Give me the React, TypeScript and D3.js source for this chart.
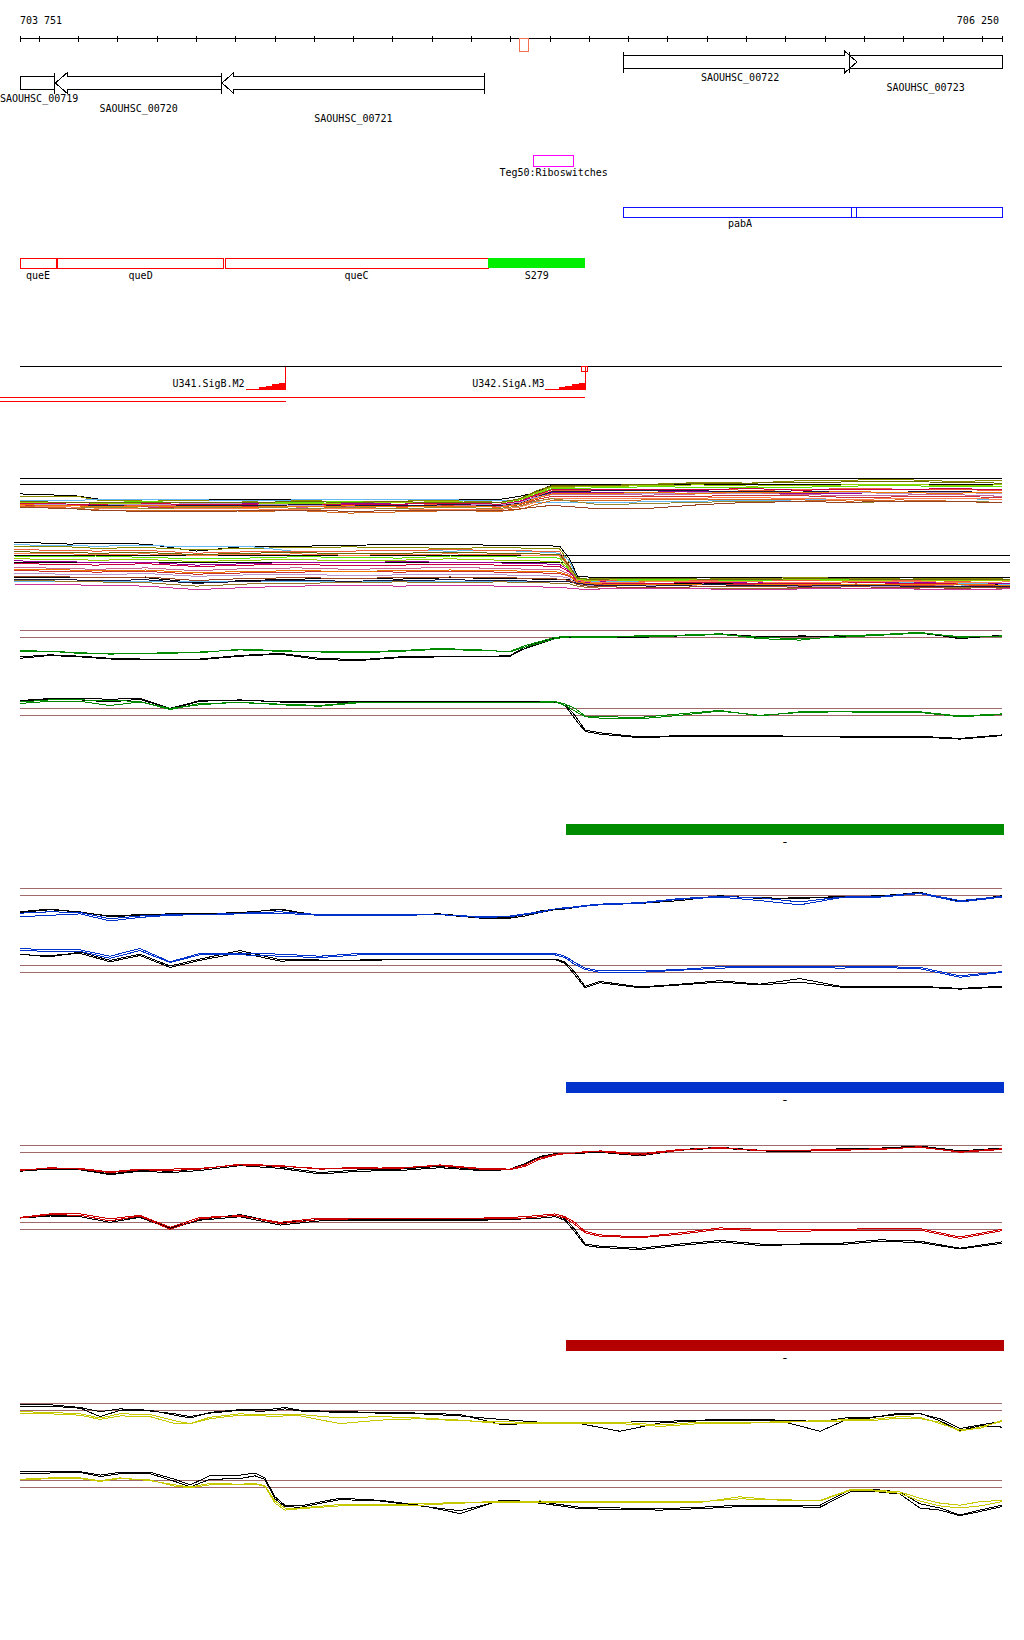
import React from 'react';
import * as d3 from 'd3';

// ---------------- data ----------------
const VIEW_START = 703751;
const VIEW_END = 706250;
const RULER_LABELS = ['703 751', '706 250'];
const RULER_MARK = [705022, 705046];

const GENE_NAMES = ['SAOUHSC_00719', 'SAOUHSC_00720', 'SAOUHSC_00721', 'SAOUHSC_00722', 'SAOUHSC_00723'];
const GENE_STARTS = [703400, 703841, 704265, 705286, 705861];
const GENE_ENDS = [703840, 704265, 704934, 705881, 706600];
const GENE_STRANDS = [-1, -1, -1, 1, 1];

const RIBO_LABEL = 'Teg50:Riboswitches';
const RIBO_RANGE = [705058, 705160];

const OPERON_NAMES = ['queE', 'queD', 'queC', 'S279'];
const OPERON_STARTS = [703700, 703847, 704273, 704942];
const OPERON_ENDS = [703843, 704269, 704942, 705190];
const OPERON_TYPES = ['cds', 'cds', 'cds', 'srna'];

const PABA_NAMES = ['pabA', ''];
const PABA_STARTS = [705286, 705866];
const PABA_ENDS = [705881, 706300];

const PROMOTER_NAMES = ['U341.SigB.M2', 'U342.SigA.M3'];
const PROMOTER_POS = [704427, 705190];
const PROMOTER_MARK = [false, true];
const TRANSCRIPT_START = 703600;

const THRESHOLDS = [12, 11];
const BAR_RANGE = [705140, 706300];
const BAR_LABEL = '-';

// positions (bp) of the smoothed expression profiles
const POS = [703751, 703827, 703904, 703980, 704056, 704133, 704209, 704311, 704413, 704514, 704616, 704718, 704820, 704922, 704998, 705036, 705074, 705112, 705138, 705163, 705189, 705227, 705329, 705431, 705532, 705634, 705736, 705838, 705940, 706041, 706143, 706250];
const POS_Y = [703751, 703827, 703904, 703955, 704006, 704082, 704145, 704184, 704234, 704311, 704349, 704374, 704400, 704425, 704464, 704565, 704667, 704769, 704871, 704973, 705074, 705176, 705278, 705380, 705481, 705583, 705685, 705787, 705863, 705914, 705990, 706041, 706092, 706143, 706194, 706250];
const POS_A = [703751, 703891, 703955, 704082, 704209, 704336, 704464, 704591, 704718, 704845, 704973, 705023, 705062, 705105, 705227, 705354, 705481, 705609, 705736, 705863, 705990, 706118, 706250];
const POS_AL = [703751, 703891, 703955, 704082, 704209, 704336, 704464, 704591, 704718, 704845, 704973, 705062, 705120, 705145, 705165, 705190, 705227, 705354, 705481, 705609, 705736, 705863, 705990, 706118, 706250];

// green condition
const GREEN_UP_C1 = [8.9, 9.0, 8.7, 8.7, 8.7, 8.7, 8.9, 9.2, 9.0, 9.0, 8.9, 9.1, 9.4, 9.2, 8.9, 9.6, 10.2, 10.8, 11.0, 11.1, 11.1, 11.1, 11.2, 11.3, 11.5, 10.8, 10.6, 11.2, 11.4, 11.7, 11.0, 11.2];
const GREEN_UP_C2 = [9.1, 9.0, 8.8, 8.6, 8.7, 8.8, 8.8, 9.3, 9.1, 8.9, 8.8, 9.0, 9.3, 9.1, 9.0, 9.8, 10.4, 11.0, 11.1, 11.0, 11.0, 11.0, 11.1, 11.2, 11.4, 11.0, 10.8, 11.0, 11.3, 11.6, 11.1, 11.1];
const GREEN_UP_K1 = [8.0, 8.4, 8.2, 7.9, 7.8, 7.8, 7.8, 8.3, 8.6, 7.8, 7.7, 8.1, 8.2, 8.2, 8.3, 9.4, 10.1, 10.8, 11.0, 11.0, 11.0, 11.0, 11.1, 11.3, 11.5, 11.1, 11.1, 11.2, 11.4, 11.7, 10.8, 11.3];
const GREEN_UP_K2 = [8.2, 8.5, 8.3, 8.0, 7.9, 7.9, 7.9, 8.4, 8.7, 8.0, 7.8, 8.2, 8.3, 8.2, 8.4, 9.6, 10.3, 10.9, 11.0, 11.0, 11.0, 10.9, 11.0, 11.2, 11.5, 10.9, 11.2, 11.1, 11.3, 11.6, 10.9, 11.2];
const GREEN_LO_C1 = [12.9, 13.2, 13.2, 13.1, 13.0, 11.8, 12.7, 12.8, 12.6, 12.4, 12.9, 12.9, 12.9, 12.9, 12.9, 12.9, 12.9, 13.0, 12.6, 12.0, 10.9, 10.8, 10.7, 11.2, 11.7, 10.9, 11.5, 11.6, 11.5, 11.5, 10.9, 11.2];
const GREEN_LO_C2 = [12.7, 13.0, 13.0, 12.4, 12.9, 12.0, 12.5, 12.9, 12.5, 12.3, 12.8, 12.8, 12.8, 12.8, 12.8, 12.8, 12.8, 12.9, 12.4, 11.6, 10.8, 10.6, 10.5, 11.0, 11.6, 11.0, 11.4, 11.5, 11.4, 11.4, 10.8, 11.1];
const GREEN_LO_K1 = [13.1, 13.4, 13.4, 13.3, 13.4, 12.0, 13.1, 13.1, 13.0, 13.0, 13.0, 13.0, 13.0, 13.0, 13.0, 13.0, 13.0, 13.0, 12.6, 11.0, 8.9, 8.5, 7.9, 8.1, 8.1, 8.1, 8.0, 8.0, 8.0, 8.0, 7.7, 8.2];
const GREEN_LO_K2 = [13.0, 13.3, 13.2, 12.9, 13.3, 11.9, 13.0, 13.2, 12.9, 12.9, 12.9, 12.9, 12.9, 12.9, 12.9, 12.9, 12.9, 12.9, 12.4, 10.5, 8.7, 8.3, 7.8, 8.0, 8.0, 8.0, 7.9, 7.9, 7.9, 7.9, 7.6, 8.1];

// blue condition
const BLUE_UP_C1 = [8.4, 8.6, 8.5, 7.6, 8.0, 8.2, 8.2, 8.4, 8.6, 8.2, 8.2, 8.2, 8.2, 7.9, 8.0, 8.3, 8.6, 9.0, 9.2, 9.3, 9.5, 9.7, 9.9, 10.5, 10.8, 10.6, 10.0, 10.7, 10.8, 11.3, 10.2, 10.8];
const BLUE_UP_C2 = [7.9, 8.1, 8.3, 7.3, 7.8, 8.1, 8.2, 8.3, 8.4, 8.1, 8.1, 8.1, 8.2, 7.8, 7.9, 8.2, 8.5, 9.0, 9.1, 9.2, 9.4, 9.6, 9.8, 10.4, 10.7, 10.2, 9.6, 10.6, 10.7, 11.2, 10.0, 10.7];
const BLUE_UP_K1 = [8.6, 9.0, 8.5, 8.0, 8.2, 8.3, 8.3, 8.5, 8.9, 8.1, 8.1, 8.2, 8.3, 7.8, 7.8, 8.2, 8.7, 9.0, 9.1, 9.3, 9.5, 9.7, 9.9, 10.4, 10.8, 10.6, 10.5, 10.8, 10.8, 11.4, 10.0, 10.9];
const BLUE_UP_K2 = [8.5, 8.9, 8.6, 7.9, 8.1, 8.2, 8.2, 8.4, 9.0, 8.0, 8.2, 8.1, 8.2, 7.7, 7.7, 8.0, 8.5, 8.9, 9.0, 9.2, 9.4, 9.6, 9.8, 10.2, 10.9, 10.5, 10.6, 10.7, 10.9, 11.3, 10.1, 10.8];
const BLUE_LO_C1 = [14.4, 14.2, 14.2, 13.3, 14.4, 12.5, 13.7, 13.7, 13.6, 13.3, 13.7, 13.7, 13.7, 13.7, 13.7, 13.7, 13.7, 13.7, 13.3, 12.4, 11.6, 11.2, 11.2, 11.4, 11.8, 11.8, 11.8, 11.8, 11.8, 11.7, 10.5, 11.1];
const BLUE_LO_C2 = [14.1, 14.0, 14.0, 13.0, 14.1, 12.4, 13.5, 13.5, 13.3, 13.1, 13.5, 13.5, 13.5, 13.5, 13.5, 13.5, 13.5, 13.5, 13.1, 12.1, 11.4, 11.0, 11.0, 11.3, 11.6, 11.7, 11.7, 11.6, 11.7, 11.5, 10.3, 11.0];
const BLUE_LO_K1 = [13.6, 13.2, 13.9, 12.7, 13.6, 11.9, 12.9, 14.1, 12.8, 12.9, 12.9, 12.9, 12.9, 12.9, 12.9, 12.9, 12.9, 12.9, 12.5, 11.0, 9.0, 9.7, 8.9, 9.3, 9.8, 9.3, 10.1, 9.0, 9.0, 9.0, 8.7, 9.0];
const BLUE_LO_K2 = [13.5, 13.4, 13.7, 12.5, 13.4, 11.7, 12.7, 13.8, 12.6, 12.7, 12.7, 12.8, 12.8, 12.8, 12.8, 12.8, 12.8, 12.8, 12.3, 10.6, 8.8, 9.5, 8.8, 9.2, 9.6, 9.2, 9.6, 8.9, 8.9, 8.9, 8.6, 8.9];

// red condition
const RED_UP_C1 = [8.5, 8.7, 8.7, 8.2, 8.6, 8.6, 8.7, 9.2, 9.0, 8.7, 8.8, 8.7, 9.2, 8.7, 8.6, 9.2, 10.2, 10.7, 10.9, 10.9, 11.0, 11.2, 10.8, 11.4, 11.6, 11.3, 11.3, 11.4, 11.5, 11.7, 11.1, 11.5];
const RED_UP_C2 = [8.4, 8.8, 8.6, 8.1, 8.5, 8.4, 8.6, 9.3, 9.1, 8.6, 8.7, 8.8, 9.1, 8.6, 8.5, 9.0, 10.0, 10.6, 10.8, 10.9, 11.1, 11.1, 10.6, 11.3, 11.7, 11.2, 11.2, 11.3, 11.4, 11.8, 11.0, 11.4];
const RED_UP_K1 = [8.5, 8.7, 8.6, 7.9, 8.4, 8.3, 8.6, 9.3, 8.9, 8.1, 8.5, 8.6, 9.0, 8.5, 8.6, 9.4, 10.4, 10.8, 10.9, 10.9, 11.0, 11.1, 10.7, 11.4, 11.7, 11.3, 11.2, 11.5, 11.6, 11.9, 11.2, 11.6];
const RED_UP_K2 = [8.3, 8.6, 8.5, 7.8, 8.3, 8.1, 8.4, 9.1, 8.7, 7.9, 8.3, 8.4, 8.8, 8.4, 8.5, 9.3, 10.3, 10.7, 10.8, 10.8, 10.9, 11.0, 10.5, 11.3, 11.6, 11.2, 11.1, 11.4, 11.5, 11.8, 11.1, 11.5];
const RED_LO_C1 = [12.7, 13.2, 13.2, 12.5, 13.0, 11.3, 12.7, 12.9, 12.0, 12.6, 12.6, 12.6, 12.6, 12.6, 12.7, 12.8, 13.0, 13.2, 12.8, 12.0, 10.7, 10.2, 9.9, 10.5, 11.2, 11.0, 10.9, 11.0, 11.1, 11.1, 9.9, 11.0];
const RED_LO_C2 = [12.6, 13.1, 13.0, 12.2, 12.9, 11.0, 12.5, 13.0, 11.8, 12.4, 12.5, 12.5, 12.5, 12.5, 12.5, 12.6, 12.8, 13.0, 12.6, 11.7, 10.5, 10.0, 9.8, 10.3, 11.0, 10.8, 10.7, 10.9, 10.9, 10.9, 9.7, 10.8];
const RED_LO_K1 = [12.7, 13.0, 13.0, 12.2, 12.8, 11.2, 12.4, 13.1, 11.9, 12.4, 12.4, 12.4, 12.4, 12.4, 12.5, 12.6, 12.8, 13.0, 12.5, 11.0, 8.9, 8.6, 8.3, 8.9, 9.4, 8.9, 8.9, 9.0, 9.5, 9.3, 8.3, 9.2];
const RED_LO_K2 = [12.6, 12.9, 12.8, 12.0, 12.7, 11.1, 12.3, 12.8, 11.6, 12.2, 12.3, 12.3, 12.3, 12.3, 12.4, 12.5, 12.6, 12.8, 12.3, 10.6, 8.7, 8.4, 8.1, 8.7, 9.2, 8.7, 8.8, 8.8, 9.3, 9.1, 8.2, 9.0];

// yellow condition
const YEL_UP_C1 = [10.8, 10.7, 10.5, 9.9, 10.5, 10.4, 9.5, 9.1, 10.0, 10.5, 10.4, 10.4, 10.4, 10.4, 10.4, 9.9, 10.1, 9.9, 9.6, 9.1, 9.1, 9.1, 9.1, 8.7, 9.1, 9.1, 9.4, 9.5, 9.7, 9.7, 10.1, 10.0, 9.1, 8.2, 8.4, 9.6];
const YEL_UP_C2 = [10.6, 10.5, 10.3, 9.7, 10.2, 10.1, 9.1, 9.1, 9.8, 10.3, 10.3, 10.2, 10.1, 10.2, 10.2, 9.1, 9.6, 9.8, 9.5, 9.4, 9.2, 9.2, 9.3, 8.9, 9.3, 9.3, 9.3, 9.4, 9.5, 9.5, 9.9, 9.8, 9.3, 8.0, 8.6, 9.4];
const YEL_UP_K1 = [11.8, 11.8, 11.4, 10.8, 11.2, 11.0, 10.3, 9.9, 10.7, 11.1, 11.1, 11.1, 11.2, 11.4, 11.0, 10.8, 10.7, 10.6, 10.4, 9.0, 9.1, 9.1, 8.0, 9.2, 9.5, 9.6, 9.5, 8.0, 9.9, 9.9, 10.6, 10.6, 9.5, 8.1, 8.8, 8.6];
const YEL_UP_K2 = [11.6, 11.6, 11.3, 10.1, 11.0, 10.9, 10.5, 10.1, 10.6, 11.0, 10.9, 10.9, 11.0, 11.2, 10.9, 10.7, 10.6, 10.5, 10.2, 9.7, 9.3, 9.2, 9.3, 9.4, 9.6, 9.7, 9.6, 9.4, 10.0, 10.0, 10.4, 10.5, 9.8, 8.4, 8.9, 9.4];
const YEL_LO_C1 = [12.0, 12.2, 12.2, 11.8, 12.2, 12.0, 11.1, 10.9, 11.3, 11.3, 11.4, 11.1, 8.7, 7.7, 7.9, 8.3, 8.4, 8.4, 8.7, 8.8, 8.8, 8.8, 8.8, 8.8, 8.8, 9.6, 9.1, 9.1, 10.6, 10.6, 10.3, 9.4, 8.7, 8.4, 8.9, 9.1];
const YEL_LO_C2 = [12.1, 12.3, 12.3, 11.9, 12.3, 11.9, 11.3, 11.0, 11.5, 11.4, 11.5, 11.2, 9.0, 8.0, 8.0, 8.5, 8.5, 8.6, 8.8, 8.9, 9.0, 8.9, 8.9, 8.9, 8.9, 9.3, 9.2, 9.0, 10.5, 10.5, 10.1, 9.0, 8.3, 8.0, 8.3, 8.9];
const YEL_LO_K1 = [13.2, 13.2, 13.2, 12.7, 13.1, 13.1, 12.1, 11.3, 12.6, 12.7, 13.0, 12.3, 9.6, 8.4, 8.3, 9.4, 9.1, 8.4, 7.2, 9.1, 8.9, 8.1, 8.0, 7.9, 8.1, 8.4, 8.4, 8.4, 10.6, 10.7, 10.3, 8.6, 8.0, 7.0, 7.7, 8.4];
const YEL_LO_K2 = [13.0, 13.0, 13.1, 12.5, 12.9, 12.9, 11.8, 11.0, 12.1, 12.2, 12.6, 12.1, 9.3, 8.2, 8.1, 9.2, 9.0, 8.3, 7.6, 9.0, 8.7, 7.9, 7.8, 7.7, 7.9, 8.2, 8.2, 8.1, 10.3, 10.4, 10.0, 8.0, 7.7, 6.9, 7.5, 8.2];

// all-conditions overview (many samples)
const A_UP_SERIES = [
  [9.4, 9.1, 8.5, 8.5, 8.5, 8.5, 8.5, 8.5, 8.5, 8.5, 8.5, 9.0, 9.6, 10.9, 10.9, 10.9, 10.9, 10.9, 10.9, 10.9, 10.9, 10.9, 10.9],
  [9.05, 9.05, 8.3, 8.2, 8.3, 8.2, 8.3, 8.1, 8.2, 8.3, 8.0, 8.6, 9.6, 10.6, 10.7, 11.0, 11.3, 11.2, 11.6, 11.7, 11.8, 11.5, 11.6],
  [8.3, 8.3, 8.5, 8.4, 8.4, 8.3, 8.4, 8.4, 8.4, 8.4, 8.3, 8.2, 8.0, 8.0, 7.9, 8.1, 8.2, 8.3, 8.4, 8.5, 8.6, 8.6, 8.5],
  [8.0, 7.9, 8.0, 8.1, 7.9, 7.8, 8.0, 8.1, 7.9, 8.0, 7.9, 8.4, 9.3, 10.3, 10.4, 10.6, 10.5, 10.4, 10.5, 10.7, 10.8, 10.6, 10.7],
  [7.8, 7.7, 7.6, 7.5, 7.4, 7.5, 7.6, 7.4, 7.5, 7.6, 7.4, 8.0, 9.0, 9.9, 10.0, 10.1, 10.2, 10.0, 10.1, 10.3, 10.2, 10.1, 10.0],
  [7.9, 7.6, 7.8, 7.7, 7.7, 7.8, 7.7, 7.8, 7.9, 7.7, 7.7, 8.1, 8.9, 9.6, 9.6, 9.7, 9.8, 9.6, 9.4, 9.5, 9.7, 9.6, 9.5],
  [7.6, 7.5, 7.4, 7.3, 7.5, 7.4, 7.2, 7.3, 7.4, 7.5, 7.3, 7.8, 8.7, 9.3, 9.3, 9.2, 9.4, 9.5, 9.3, 9.1, 9.2, 9.3, 9.0],
  [7.5, 7.4, 7.6, 7.2, 7.1, 7.3, 7.4, 7.2, 7.3, 7.4, 7.2, 7.6, 8.4, 9.0, 9.0, 8.9, 9.0, 9.2, 9.1, 8.8, 8.9, 9.0, 8.8],
  [7.4, 7.2, 7.0, 6.9, 7.0, 6.9, 6.8, 7.0, 6.9, 6.8, 6.8, 7.2, 8.0, 8.7, 8.7, 8.6, 8.7, 8.8, 8.6, 8.5, 8.6, 8.7, 8.5],
  [7.3, 7.0, 6.7, 6.6, 6.7, 6.5, 6.6, 6.2, 6.4, 6.6, 6.5, 6.8, 7.6, 8.3, 8.3, 8.4, 8.4, 8.5, 8.4, 8.2, 8.4, 8.2, 7.9],
  [7.7, 7.6, 7.5, 7.6, 7.5, 7.4, 7.6, 7.5, 7.4, 7.6, 7.5, 7.9, 8.8, 9.8, 9.9, 10.0, 9.9, 9.8, 9.9, 9.6, 9.7, 9.8, 9.6],
  [7.7, 7.6, 7.7, 7.6, 7.8, 7.7, 7.5, 7.6, 7.7, 7.8, 7.6, 8.0, 8.8, 9.4, 9.5, 9.4, 9.6, 9.5, 9.7, 9.6, 9.5, 9.7, 9.4],
  [7.1, 7.0, 7.2, 7.0, 7.1, 7.2, 7.0, 7.1, 7.0, 7.1, 7.0, 7.4, 8.2, 8.6, 7.6, 7.8, 8.0, 8.2, 8.1, 8.0, 8.1, 8.2, 8.0],
  [7.2, 6.9, 6.6, 6.5, 6.4, 6.6, 6.7, 6.5, 6.6, 6.7, 6.6, 6.9, 7.2, 7.5, 6.9, 7.0, 7.6, 8.0, 8.1, 8.0, 8.2, 8.1, 8.0],
  [7.8, 7.7, 7.7, 7.8, 7.6, 7.7, 7.8, 7.6, 7.7, 7.8, 7.7, 8.2, 9.2, 10.1, 10.2, 10.2, 10.1, 10.3, 10.0, 10.2, 10.1, 10.3, 10.1],
  [7.9, 8.0, 7.8, 7.9, 8.0, 7.9, 7.8, 7.9, 8.0, 8.1, 7.9, 8.5, 9.5, 10.5, 10.6, 10.8, 10.9, 10.7, 10.8, 10.9, 11.0, 10.8, 10.9],
  [8.1, 8.0, 7.9, 8.0, 7.9, 8.0, 8.1, 8.0, 8.1, 7.9, 8.0, 8.6, 9.8, 10.8, 10.8, 11.0, 11.1, 11.2, 11.3, 11.4, 11.5, 11.3, 11.2],
  [7.6, 7.4, 7.3, 7.4, 7.3, 7.2, 7.3, 7.4, 7.2, 7.3, 7.2, 7.7, 8.6, 9.4, 9.5, 9.6, 9.5, 9.7, 9.6, 9.8, 9.6, 9.5, 9.7],
];
const A_LO_SERIES = [
  [13.9, 13.6, 13.7, 13.6, 12.6, 13.3, 13.3, 13.4, 13.6, 13.6, 13.4, 13.4, 13.3, 11.5, 9.0, 8.9, 8.9, 8.9, 8.9, 8.9, 8.9, 8.9, 8.9, 8.9, 8.9],
  [8.9, 8.9, 8.9, 8.8, 8.1, 8.4, 8.6, 8.7, 8.6, 8.8, 8.7, 8.6, 8.6, 8.5, 8.4, 8.2, 8.0, 7.9, 8.0, 7.9, 7.8, 7.9, 7.8, 7.9, 7.8],
  [13.3, 13.2, 13.0, 13.1, 12.8, 13.0, 13.1, 13.2, 13.1, 13.0, 13.1, 13.0, 12.9, 11.0, 8.8, 8.6, 8.7, 8.6, 8.6, 8.7, 8.8, 8.7, 8.6, 8.7, 8.6],
  [13.5, 13.4, 13.3, 13.4, 13.2, 13.3, 12.5, 12.6, 12.7, 12.6, 12.7, 12.5, 12.3, 11.2, 8.6, 8.3, 8.2, 8.2, 8.3, 8.2, 8.1, 8.2, 8.1, 8.0, 8.0],
  [8.3, 8.3, 8.3, 8.2, 8.3, 8.3, 8.2, 8.3, 8.3, 8.2, 8.3, 8.2, 8.2, 8.2, 8.1, 8.0, 7.9, 7.9, 7.8, 7.8, 7.9, 7.8, 7.7, 7.6, 7.8],
  [12.8, 12.7, 12.6, 12.7, 12.3, 12.5, 12.6, 12.6, 12.7, 12.8, 12.7, 12.6, 12.5, 10.5, 8.5, 8.3, 8.4, 8.3, 8.4, 8.5, 8.4, 8.3, 8.4, 8.3, 8.4],
  [11.9, 11.8, 11.9, 11.7, 11.5, 11.6, 11.8, 11.7, 11.6, 11.9, 11.8, 11.7, 11.6, 10.0, 8.7, 8.5, 8.5, 8.6, 8.5, 8.4, 8.6, 8.6, 8.5, 8.6, 8.5],
  [11.2, 11.1, 10.9, 11.0, 10.6, 10.8, 11.0, 10.9, 11.1, 11.0, 10.9, 10.8, 10.7, 9.8, 8.3, 8.1, 8.2, 8.0, 8.1, 8.2, 8.0, 8.1, 8.2, 8.1, 8.0],
  [10.8, 10.7, 10.6, 10.8, 10.4, 10.6, 10.7, 10.5, 10.6, 10.7, 10.6, 10.5, 10.4, 9.6, 8.2, 8.0, 7.9, 8.0, 8.1, 8.0, 7.9, 8.1, 8.0, 7.9, 7.9],
  [10.3, 10.1, 10.0, 10.2, 9.8, 10.1, 10.2, 10.0, 10.1, 10.3, 10.1, 10.0, 9.9, 9.3, 8.0, 7.8, 7.7, 7.8, 7.9, 7.7, 7.8, 7.7, 7.8, 7.6, 7.7],
  [9.8, 9.7, 9.6, 9.7, 9.3, 9.5, 9.6, 9.7, 9.6, 9.7, 9.6, 9.5, 9.4, 9.0, 8.1, 7.9, 7.8, 7.7, 7.8, 7.8, 7.7, 7.8, 7.7, 7.8, 7.6],
  [9.4, 9.3, 9.2, 9.4, 9.0, 9.2, 9.3, 9.1, 9.2, 9.3, 9.2, 9.1, 9.0, 8.7, 7.9, 7.7, 7.6, 7.7, 7.6, 7.5, 7.6, 7.5, 7.6, 7.5, 7.5],
  [8.6, 8.5, 8.4, 8.5, 8.0, 8.3, 8.4, 8.3, 8.4, 8.5, 8.4, 8.3, 8.3, 8.2, 8.0, 7.8, 7.7, 7.6, 7.8, 7.7, 7.6, 7.7, 7.6, 7.6, 7.5],
  [8.4, 8.3, 8.2, 8.1, 7.6, 7.9, 8.0, 8.1, 8.2, 8.1, 8.2, 8.1, 8.0, 7.9, 7.6, 7.4, 7.3, 7.4, 7.3, 7.2, 7.3, 7.2, 7.3, 7.4, 7.3],
  [12.3, 12.2, 12.1, 12.2, 12.0, 12.1, 12.2, 12.0, 12.1, 12.2, 12.1, 12.0, 11.9, 10.2, 8.4, 8.2, 8.1, 8.2, 8.3, 8.2, 8.1, 8.2, 8.3, 8.1, 8.2],
  [11.5, 11.4, 11.3, 11.4, 11.1, 11.3, 11.4, 11.2, 11.3, 11.5, 11.3, 11.2, 11.1, 9.9, 8.6, 8.4, 8.5, 8.4, 8.5, 8.6, 8.5, 8.4, 8.5, 8.4, 8.4],
  [12.5, 12.4, 12.3, 12.4, 12.1, 12.3, 12.4, 12.2, 12.3, 12.4, 12.3, 12.2, 12.1, 10.4, 8.7, 8.6, 8.6, 8.7, 8.6, 8.5, 8.7, 8.6, 8.5, 8.6, 8.5],
  [10.0, 9.9, 9.8, 9.9, 9.5, 9.7, 9.8, 9.7, 9.8, 9.9, 9.8, 9.7, 9.6, 9.1, 8.2, 8.0, 7.9, 7.8, 7.9, 7.9, 7.8, 7.9, 7.8, 7.9, 7.7],
  [9.0, 8.9, 8.8, 8.9, 8.4, 8.7, 8.8, 8.7, 8.8, 8.9, 8.8, 8.7, 8.6, 8.4, 7.8, 7.6, 7.5, 7.4, 7.5, 7.6, 7.4, 7.5, 7.4, 7.3, 7.4],
  [7.9, 7.8, 7.7, 7.6, 7.1, 7.4, 7.6, 7.7, 7.6, 7.7, 7.6, 7.5, 7.4, 7.3, 7.2, 7.1, 7.2, 7.3, 7.2, 7.1, 7.2, 7.3, 7.2, 7.1, 7.2],
];

// ---------------- styles ----------------
const A_UP_COLORS = ['#000000', '#8b8b00', '#66b8f0', '#5ee000', '#e8603c', '#990099', '#cc6699', '#cc3333', '#ff7f50', '#d2691e', '#1a1a40', '#bb99cc', '#998833', '#994422', '#cc0044', '#99cc00', '#6b6b00', '#ee7700'];
const A_LO_COLORS = ['#000000', '#000000', '#8b8b00', '#66b8f0', '#66b8f0', '#e8603c', '#5ee000', '#990099', '#cc0044', '#cc6699', '#cc3333', '#bb99cc', '#1a1a40', '#99772a', '#ff7f50', '#99cc00', '#6b6b00', '#ee7700', '#994422', '#cc3399'];
const THR_COLOR = '#a06a6a';
const FONT = "'DejaVu Sans Mono', 'Liberation Mono', monospace";

const X0 = 20;
const X1 = 1002;
const CHAR_W = 6.02;

type Scale = d3.ScaleLinear<number, number>;

function pathFor(pos: number[], vals: number[], xs: Scale, ys: Scale) {
  const line = d3
    .line<number>()
    .defined((d, i) => i < pos.length && d != null)
    .x((d, i) => xs(pos[i]))
    .y((d) => ys(d));
  return line(vals) || '';
}

function Panel(props: {
  pos: number[];
  series: number[][];
  colors: string[];
  xs: Scale;
  refY: number;
  unit: number;
  thrColor: string;
}) {
  const { pos, series, colors, xs, refY, unit, thrColor } = props;
  const ys = d3.scaleLinear().domain([THRESHOLDS[0], THRESHOLDS[1]]).range([refY, refY + unit]);
  const [r0, r1] = xs.range();
  return (
    <g>
      {THRESHOLDS.map((t, i) => (
        <line key={'t' + i} x1={r0} x2={r1} y1={ys(t)} y2={ys(t)} stroke={thrColor} strokeWidth={1} shapeRendering="crispEdges" />
      ))}
      {series.map((s, i) => (
        <path key={i} d={pathFor(pos, s, xs, ys)} fill="none" stroke={colors[i]} strokeWidth={1} shapeRendering="crispEdges" />
      ))}
    </g>
  );
}

export default function App() {
  const x = d3.scaleLinear().domain([VIEW_START, VIEW_END]).range([X0, X1]);
  const xLo = d3.scaleLinear().domain([VIEW_START, VIEW_END]).range([X0 - 6, X1 + 8]);
  const clamp = (v: number) => Math.max(X0, Math.min(X1, v));
  const ticks = x.ticks(25);

  // gene glyph geometry
  const fwdTop = 55.5;
  const revTop = 76.5;
  const bodyH = 13;
  const headExt = 4;
  const headLen = 12;
  const labelLane = [0, 1, 2, 0, 1];

  const genes = GENE_NAMES.map((name, i) => {
    const strand = GENE_STRANDS[i];
    const top = strand > 0 ? fwdTop : revTop;
    const bot = top + bodyH;
    const mid = top + bodyH / 2;
    const a = x(GENE_STARTS[i]);
    const b = x(GENE_ENDS[i]);
    const tail = strand > 0 ? a : b;
    const tip = strand > 0 ? b : a;
    const dir = strand > 0 ? 1 : -1;
    const tipVis = tip >= X0 && tip <= X1;
    const tailVis = tail >= X0 && tail <= X1;
    const tc = clamp(tail);
    let d: string;
    if (tipVis) {
      const base = tip - dir * headLen;
      d = `M${tc},${top}L${base},${top}L${base},${top - headExt}L${tip},${mid}L${base},${bot + headExt}L${base},${bot}L${tc},${bot}Z`;
    } else {
      const pc = clamp(tip);
      d = `M${tc},${top}L${pc},${top}L${pc},${bot}L${tc},${bot}Z`;
    }
    const half = (name.length * CHAR_W) / 2;
    const cx = Math.max(half, (clamp(a) + clamp(b)) / 2);
    return { name, d, tail, tailVis, top, bot, cx, ly: bot + 12 + labelLane[i] * 10 };
  });

  const tracks = [
    { color: '#008a00', bar: '#008c00', pos: POS, up: [GREEN_UP_K1, GREEN_UP_K2, GREEN_UP_C1, GREEN_UP_C2], lo: [GREEN_LO_K1, GREEN_LO_K2, GREEN_LO_C1, GREEN_LO_C2], upRef: 630.3, loRef: 708.3, barY: 824 },
    { color: '#0033cc', bar: '#0033cc', pos: POS, up: [BLUE_UP_K1, BLUE_UP_K2, BLUE_UP_C1, BLUE_UP_C2], lo: [BLUE_LO_K1, BLUE_LO_K2, BLUE_LO_C1, BLUE_LO_C2], upRef: 888, loRef: 965.3, barY: 1082 },
    { color: '#cc0000', bar: '#b40000', pos: POS, up: [RED_UP_K1, RED_UP_K2, RED_UP_C1, RED_UP_C2], lo: [RED_LO_K1, RED_LO_K2, RED_LO_C1, RED_LO_C2], upRef: 1145.3, loRef: 1222.3, barY: 1340 },
    { color: '#c8c800', bar: null, pos: POS_Y, up: [YEL_UP_K1, YEL_UP_K2, YEL_UP_C1, YEL_UP_C2], lo: [YEL_LO_K1, YEL_LO_K2, YEL_LO_C1, YEL_LO_C2], upRef: 1403.3, loRef: 1480, barY: 0 },
  ];

  const promLineY = 366.5;
  const rampW = 40;
  const rampH = 7;
  const rampSteps = 6;

  return (
    <svg
      width={1024}
      height={1640}
      style={{ position: 'absolute', left: 0, top: 0, background: '#fff' }}
      fontFamily={FONT}
      fontSize={10}
    >
      <rect x={0} y={0} width={1024} height={1640} fill="#fff" />

      {/* ruler */}
      <text x={X0} y={24} fill="#000">{RULER_LABELS[0]}</text>
      <text x={X1 - 3} y={24} fill="#000" textAnchor="end">{RULER_LABELS[1]}</text>
      <line x1={x(VIEW_START)} x2={x(VIEW_END)} y1={38.5} y2={38.5} stroke="#000" shapeRendering="crispEdges" />
      {[VIEW_START, ...ticks, VIEW_END].map((t, i) => (
        <line key={i} x1={x(t)} x2={x(t)} y1={35.5} y2={41.5} stroke="#000" shapeRendering="crispEdges" />
      ))}
      <rect x={x(RULER_MARK[0])} y={38.5} width={x(RULER_MARK[1]) - x(RULER_MARK[0])} height={13} fill="none" stroke="#f0704f" shapeRendering="crispEdges" />

      {/* genes */}
      {genes.map((g, i) => (
        <g key={i}>
          <path d={g.d} fill="none" stroke="#000" strokeWidth={1} shapeRendering="crispEdges" />
          {g.tailVis && (
            <line x1={g.tail} x2={g.tail} y1={g.top - headExt} y2={g.bot + headExt} stroke="#000" strokeWidth={1} shapeRendering="crispEdges" />
          )}
          <text x={g.cx} y={g.ly} textAnchor="middle" fill="#000">{g.name}</text>
        </g>
      ))}

      {/* riboswitch */}
      <rect x={x(RIBO_RANGE[0])} y={155.5} width={x(RIBO_RANGE[1]) - x(RIBO_RANGE[0])} height={10.5} fill="none" stroke="#ff00ff" strokeWidth={1} shapeRendering="crispEdges" />
      <text x={(x(RIBO_RANGE[0]) + x(RIBO_RANGE[1])) / 2} y={176} textAnchor="middle" fill="#000">{RIBO_LABEL}</text>

      {/* pabA */}
      {PABA_NAMES.map((n, i) => {
        const a = clamp(x(PABA_STARTS[i]));
        const b = clamp(x(PABA_ENDS[i]));
        return (
          <g key={i}>
            <rect x={a} y={207.5} width={b - a} height={10} fill="none" stroke="#1010ff" strokeWidth={1} shapeRendering="crispEdges" />
            {n && <text x={(a + b) / 2} y={227} textAnchor="middle" fill="#000">{n}</text>}
          </g>
        );
      })}

      {/* que operon */}
      {OPERON_NAMES.map((n, i) => {
        const a = clamp(x(OPERON_STARTS[i]));
        const b = clamp(x(OPERON_ENDS[i]));
        const srna = OPERON_TYPES[i] === 'srna';
        return (
          <g key={i}>
            <rect
              x={a}
              y={258}
              width={b - a}
              height={10}
              fill={srna ? '#00ee00' : 'none'}
              stroke={srna ? 'none' : '#ff0000'}
              strokeWidth={1}
              shapeRendering="crispEdges"
            />
            <text x={(a + b) / 2} y={279} textAnchor="middle" fill="#000">{n}</text>
          </g>
        );
      })}

      {/* promoters */}
      <line x1={X0} x2={X1} y1={promLineY} y2={promLineY} stroke="#000" shapeRendering="crispEdges" />
      {PROMOTER_NAMES.map((n, i) => {
        const px = x(PROMOTER_POS[i]);
        const baseY = 390;
        const pts: string[] = [`${px},${baseY}`, `${px - rampW},${baseY}`];
        for (let s = 0; s < rampSteps; s++) {
          const h = Math.max(1, (s / (rampSteps - 1)) * rampH);
          const xa = px - rampW + (s * rampW) / rampSteps;
          const xb = px - rampW + ((s + 1) * rampW) / rampSteps;
          pts.push(`${xa},${baseY - h}`, `${xb},${baseY - h}`);
        }
        return (
          <g key={i}>
            <line x1={px} x2={px} y1={promLineY} y2={baseY} stroke="#ff0000" shapeRendering="crispEdges" />
            <polygon points={pts.join(' ')} fill="#ff0000" shapeRendering="crispEdges" />
            {PROMOTER_MARK[i] && (
              <rect x={px - 4} y={promLineY} width={6} height={4.5} fill="none" stroke="#ff0000" shapeRendering="crispEdges" />
            )}
            <text x={px - rampW - 1} y={386.5} textAnchor="end" fill="#000">{n}</text>
          </g>
        );
      })}
      {PROMOTER_POS.map((p, i) => {
        const lane = PROMOTER_POS.length - 1 - i;
        const y = 397.5 + lane * 4;
        return <line key={'tr' + i} x1={x(TRANSCRIPT_START)} x2={x(p)} y1={y} y2={y} stroke="#ff0000" shapeRendering="crispEdges" />;
      })}

      {/* overview panel, all samples */}
      <Panel pos={POS_A} series={A_UP_SERIES} colors={A_UP_COLORS} xs={x} refY={478.3} unit={6} thrColor="#000" />
      <Panel pos={POS_AL} series={A_LO_SERIES} colors={A_LO_COLORS} xs={xLo} refY={555.3} unit={7} thrColor="#000" />

      {/* per-condition panels */}
      {tracks.map((t, i) => (
        <g key={i}>
          <Panel pos={t.pos} series={t.up} colors={['#000', '#000', t.color, t.color]} xs={x} refY={t.upRef} unit={7} thrColor={THR_COLOR} />
          <Panel pos={t.pos} series={t.lo} colors={['#000', '#000', t.color, t.color]} xs={x} refY={t.loRef} unit={7} thrColor={THR_COLOR} />
          {t.bar && (
            <g>
              <rect
                x={x(BAR_RANGE[0])}
                y={t.barY}
                width={Math.min(X1 + 2, x(BAR_RANGE[1])) - x(BAR_RANGE[0])}
                height={11}
                fill={t.bar}
                shapeRendering="crispEdges"
              />
              <text x={(x(BAR_RANGE[0]) + Math.min(X1 + 2, x(BAR_RANGE[1]))) / 2} y={t.barY + 22} textAnchor="middle" fill="#000" fontSize={13}>{BAR_LABEL}</text>
            </g>
          )}
        </g>
      ))}
    </svg>
  );
}
